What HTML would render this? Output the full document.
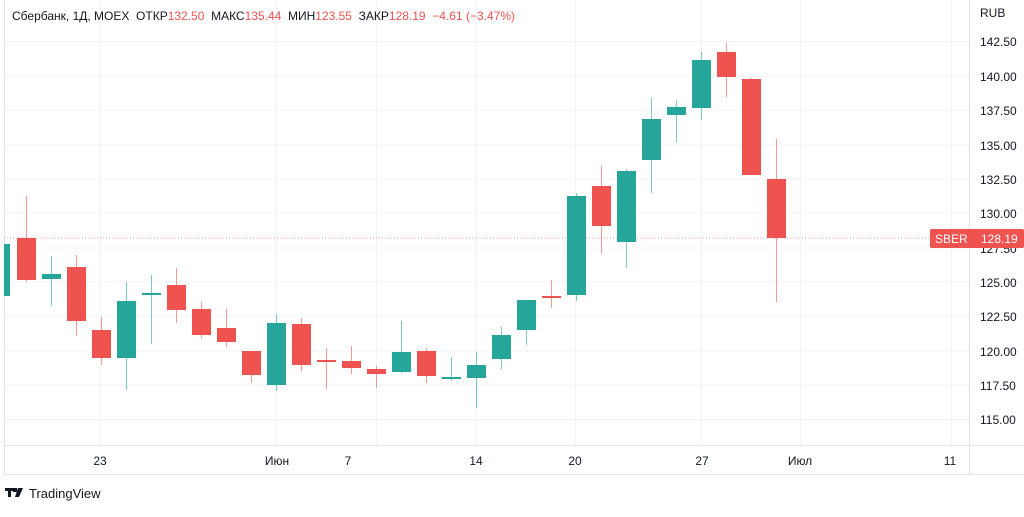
<!DOCTYPE html>
<html><head><meta charset="utf-8"><style>
body{margin:0;background:#fff;}
svg text{font-family:"Liberation Sans","Noto Sans CJK SC",sans-serif;}
</style></head><body>
<svg width="1024" height="512" xmlns="http://www.w3.org/2000/svg">
<rect width="1024" height="512" fill="#fff"/>
<g stroke="#f0f3fa" stroke-width="1">
<line x1="4" x2="969" y1="41.5" y2="41.5"/><line x1="4" x2="969" y1="76" y2="76"/><line x1="4" x2="969" y1="110" y2="110"/><line x1="4" x2="969" y1="145" y2="145"/><line x1="4" x2="969" y1="179" y2="179"/><line x1="4" x2="969" y1="213" y2="213"/><line x1="4" x2="969" y1="248" y2="248"/><line x1="4" x2="969" y1="282" y2="282"/><line x1="4" x2="969" y1="316" y2="316"/><line x1="4" x2="969" y1="351" y2="351"/><line x1="4" x2="969" y1="385" y2="385"/><line x1="4" x2="969" y1="419.5" y2="419.5"/>
<line x1="100.5" x2="100.5" y1="0" y2="445"/><line x1="276.5" x2="276.5" y1="0" y2="445"/><line x1="376.5" x2="376.5" y1="0" y2="445"/><line x1="476.5" x2="476.5" y1="0" y2="445"/><line x1="575.5" x2="575.5" y1="0" y2="445"/><line x1="701.5" x2="701.5" y1="0" y2="445"/><line x1="800.5" x2="800.5" y1="0" y2="445"/><line x1="951.5" x2="951.5" y1="0" y2="445"/>
</g>
<g stroke="#e0e3eb" stroke-width="1" fill="none">
<line x1="4.5" x2="4.5" y1="0" y2="474"/>
<line x1="969.5" x2="969.5" y1="0" y2="474"/>
<line x1="4" x2="1024" y1="445.5" y2="445.5"/>
<line x1="4" x2="1024" y1="474.5" y2="474.5"/>
</g>
<line x1="4" x2="969" y1="238" y2="238" stroke="#f4a0a0" stroke-dasharray="1,2"/>
<g id="c">
<g fill="#26a69a" stroke="#26a69a">
<rect x="4" y="244" width="6" height="52" stroke="none"/>
<line x1="51.5" x2="51.5" y1="256" y2="306" stroke-opacity=".6"/><rect x="42" y="274" width="19" height="5" stroke="none"/>
<line x1="126.5" x2="126.5" y1="282" y2="390" stroke-opacity=".6"/><rect x="117" y="301" width="19" height="57" stroke="none"/>
<line x1="151.5" x2="151.5" y1="275" y2="344" stroke-opacity=".6"/><rect x="142" y="293" width="19" height="2" stroke="none"/>
<line x1="276.5" x2="276.5" y1="314" y2="391" stroke-opacity=".6"/><rect x="267" y="323" width="19" height="62" stroke="none"/>
<line x1="401.5" x2="401.5" y1="321" y2="373" stroke-opacity=".6"/><rect x="392" y="352" width="19" height="20" stroke="none"/>
<line x1="451.5" x2="451.5" y1="357" y2="381" stroke-opacity=".6"/><rect x="442" y="377" width="19" height="2" stroke="none"/>
<line x1="476.5" x2="476.5" y1="352" y2="408" stroke-opacity=".6"/><rect x="467" y="365" width="19" height="13" stroke="none"/>
<line x1="501.5" x2="501.5" y1="327" y2="369" stroke-opacity=".6"/><rect x="492" y="335" width="19" height="24" stroke="none"/>
<line x1="526.5" x2="526.5" y1="300" y2="345" stroke-opacity=".6"/><rect x="517" y="300" width="19" height="30" stroke="none"/>
<line x1="576.5" x2="576.5" y1="193" y2="301" stroke-opacity=".6"/><rect x="567" y="196" width="19" height="99" stroke="none"/>
<line x1="626.5" x2="626.5" y1="169" y2="268" stroke-opacity=".6"/><rect x="617" y="171" width="19" height="71" stroke="none"/>
<line x1="651.5" x2="651.5" y1="98" y2="193" stroke-opacity=".6"/><rect x="642" y="119" width="19" height="41" stroke="none"/>
<line x1="676.5" x2="676.5" y1="100" y2="142" stroke-opacity=".6"/><rect x="667" y="107" width="19" height="8" stroke="none"/>
<line x1="701.5" x2="701.5" y1="52" y2="120" stroke-opacity=".6"/><rect x="692" y="60" width="19" height="48" stroke="none"/>
</g>
<g fill="#ef5350" stroke="#ef5350">
<line x1="26.5" x2="26.5" y1="196" y2="282" stroke-opacity=".6"/><rect x="17" y="238" width="19" height="42" stroke="none"/>
<line x1="76.5" x2="76.5" y1="255" y2="336" stroke-opacity=".6"/><rect x="67" y="267" width="19" height="54" stroke="none"/>
<line x1="101.5" x2="101.5" y1="317" y2="365" stroke-opacity=".6"/><rect x="92" y="330" width="19" height="28" stroke="none"/>
<line x1="176.5" x2="176.5" y1="268" y2="323" stroke-opacity=".6"/><rect x="167" y="285" width="19" height="25" stroke="none"/>
<line x1="201.5" x2="201.5" y1="302" y2="338" stroke-opacity=".6"/><rect x="192" y="309" width="19" height="26" stroke="none"/>
<line x1="226.5" x2="226.5" y1="309" y2="347" stroke-opacity=".6"/><rect x="217" y="328" width="19" height="14" stroke="none"/>
<line x1="251.5" x2="251.5" y1="351" y2="383" stroke-opacity=".6"/><rect x="242" y="351" width="19" height="24" stroke="none"/>
<line x1="301.5" x2="301.5" y1="318" y2="371" stroke-opacity=".6"/><rect x="292" y="324" width="19" height="41" stroke="none"/>
<line x1="326.5" x2="326.5" y1="348" y2="389" stroke-opacity=".6"/><rect x="317" y="360" width="19" height="2" stroke="none"/>
<line x1="351.5" x2="351.5" y1="346" y2="374" stroke-opacity=".6"/><rect x="342" y="361" width="19" height="7" stroke="none"/>
<line x1="376.5" x2="376.5" y1="366" y2="388" stroke-opacity=".6"/><rect x="367" y="369" width="19" height="5" stroke="none"/>
<line x1="426.5" x2="426.5" y1="348" y2="383" stroke-opacity=".6"/><rect x="417" y="351" width="19" height="25" stroke="none"/>
<line x1="551.5" x2="551.5" y1="280" y2="308" stroke-opacity=".6"/><rect x="542" y="296" width="19" height="2" stroke="none"/>
<line x1="601.5" x2="601.5" y1="166" y2="253" stroke-opacity=".6"/><rect x="592" y="186" width="19" height="40" stroke="none"/>
<line x1="726.5" x2="726.5" y1="43" y2="97" stroke-opacity=".6"/><rect x="717" y="52" width="19" height="25" stroke="none"/>
<line x1="751.5" x2="751.5" y1="78" y2="175" stroke-opacity=".6"/><rect x="742" y="79" width="19" height="96" stroke="none"/>
<line x1="776.5" x2="776.5" y1="139" y2="302" stroke-opacity=".6"/><rect x="767" y="179" width="19" height="59" stroke="none"/>
</g>
</g>
<g font-size="12" fill="#131722">
<text x="980" y="17">RUB</text>
<text x="980" y="46">142.50</text><text x="980" y="81">140.00</text><text x="980" y="115">137.50</text><text x="980" y="150">135.00</text><text x="980" y="184">132.50</text><text x="980" y="218">130.00</text><text x="980" y="253">127.50</text><text x="980" y="287">125.00</text><text x="980" y="321">122.50</text><text x="980" y="356">120.00</text><text x="980" y="390">117.50</text><text x="980" y="424">115.00</text>
<g text-anchor="middle"><text x="100" y="465">23</text><text x="277" y="465">Июн</text><text x="348" y="465">7</text><text x="476" y="465">14</text><text x="575" y="465">20</text><text x="702" y="465">27</text><text x="800" y="465">Июл</text><text x="950" y="465">11</text></g>
</g>
<rect x="930" y="229" width="94" height="19" rx="2" fill="#ef5350"/>
<text x="935" y="243" font-size="12" fill="#fff">SBER</text>
<text x="981" y="243" font-size="12" fill="#fff">128.19</text>
<text x="12" y="20" font-size="12" fill="#131722" xml:space="preserve" style="white-space:pre">Сбербанк, 1Д, MOEX  ОТКР<tspan fill="#ef5350">132.50</tspan>  МАКС<tspan fill="#ef5350">135.44</tspan>  МИН<tspan fill="#ef5350">123.55</tspan>  ЗАКР<tspan fill="#ef5350">128.19  −4.61 (−3.47%)</tspan></text>
<g fill="#131722">
<rect x="5" y="488" width="8" height="3"/><rect x="8" y="488" width="3" height="9"/><rect x="13" y="488" width="4" height="4"/><polygon points="18,488 23,488 19,497 15,497"/>
</g>
<text x="29" y="498" font-size="13" fill="#131722">TradingView</text>
</svg>
</body></html>
